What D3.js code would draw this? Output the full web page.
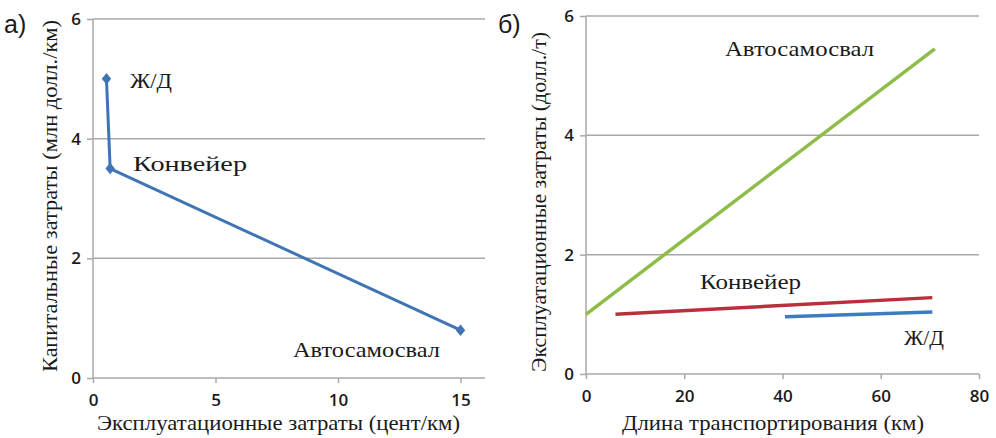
<!DOCTYPE html>
<html>
<head>
<meta charset="utf-8">
<script src="https://cdn.jsdelivr.net/npm/d3@7"></script>
<style>
  body { margin: 0; background: #fff; }
</style>
</head>
<body>
<div id="chart"></div>
<script>
// panel a: capital vs operating cost
var aNames = ['Ж/Д', 'Конвейер', 'Автосамосвал'];
var aOper = [0.55, 0.7, 15];      // цент/км
var aCap = [5.0, 3.5, 0.8];       // млн долл./км
var aXTicks = [0, 5, 10, 15];
var aYTicks = [0, 2, 4, 6];

// panel b: operating cost vs haul length
var bNames = ['Автосамосвал', 'Конвейер', 'Ж/Д'];
var bColors = ['#8dbd48', '#b9303d', '#3e7cc2'];
var bLen = [[0, 71], [6, 70.5], [40.5, 70.5]];
var bCost = [[1.0, 5.45], [1.0, 1.28], [0.96, 1.04]];
var bXTicks = [0, 20, 40, 60, 80];
var bYTicks = [0, 2, 4, 6];

var SERIF = '"Liberation Serif", "Times New Roman", "DejaVu Serif", serif';
var SANS = '"Open Sans", "Liberation Sans", sans-serif';

var svg = d3.select('#chart').append('svg')
  .attr('width', 996)
  .attr('height', 438);

var drawFrame = function(g, x, y, xt, yt) {
  g.selectAll('line.grid').data(yt.filter(function(d){ return d > 0; }))
    .enter().append('line')
    .attr('class', 'grid')
    .attr('x1', x.range()[0]).attr('x2', x.range()[1])
    .attr('y1', function(d){ return y(d); })
    .attr('y2', function(d){ return y(d); })
    .attr('stroke', '#a8a8a8').attr('stroke-width', 1.5);

  var yAxis = g.append('g')
    .attr('transform', 'translate(' + x.range()[0] + ',0)')
    .call(d3.axisLeft(y).tickValues(yt).tickFormat(d3.format('d')).tickSize(6).tickPadding(6));
  var xAxis = g.append('g')
    .attr('transform', 'translate(0,' + y.range()[0] + ')')
    .call(d3.axisBottom(x).tickValues(xt).tickFormat(d3.format('d')).tickSize(5).tickPadding(11));
  [yAxis, xAxis].forEach(function(ax) {
    ax.attr('font-family', SANS).attr('font-size', 17).attr('font-weight', 600);
    ax.selectAll('.tick text').attr('fill', '#1a1a1a');
    ax.select('.domain').attr('stroke', '#a8a8a8').attr('stroke-width', 1.5);
    ax.selectAll('.tick line').attr('stroke', '#a8a8a8').attr('stroke-width', 1.5);
  });
  xAxis.selectAll('.domain').attr('d', 'M' + x.range()[0] + ',0H' + x.range()[1]);
  yAxis.selectAll('.domain').attr('d', 'M0,' + y.range()[0] + 'V' + y.range()[1]);
};

var addText = function(g, x, y, str, size, len) {
  var t = g.append('text')
    .attr('x', x).attr('y', y)
    .attr('font-family', SERIF)
    .attr('font-size', size)
    .attr('fill', '#1a1a1a')
    .text(str);
  if (len) t.attr('textLength', len).attr('lengthAdjust', 'spacingAndGlyphs');
  return t;
};

// ---- panel a
var ax = d3.scaleLinear().domain([0, 16]).range([93, 485]);
var ay = d3.scaleLinear().domain([0, 6]).range([378, 19]);
var ga = svg.append('g');
drawFrame(ga, ax, ay, aXTicks, aYTicks);

var aPts = aOper.map(function(v, i) { return { x: v, y: aCap[i], n: aNames[i] }; });
ga.append('path').datum(aPts)
  .attr('fill', 'none')
  .attr('stroke', '#3f74b5')
  .attr('stroke-width', 3)
  .attr('stroke-linejoin', 'round')
  .attr('d', d3.line().x(function(d){ return ax(d.x); }).y(function(d){ return ay(d.y); }));
ga.selectAll('path.pt').data(aPts).enter().append('path')
  .attr('class', 'pt')
  .attr('d', d3.symbol().type(d3.symbolSquare).size(50))
  .attr('transform', function(d){ return 'translate(' + ax(d.x) + ',' + ay(d.y) + ') scale(0.95,1.15) rotate(45)'; })
  .attr('fill', '#3f74b5');

var aLabPos = [[130, 88, 42], [133, 171, 114], [293, 357, 147]];
aNames.forEach(function(n, i) {
  addText(ga, aLabPos[i][0], aLabPos[i][1], n, 22, aLabPos[i][2]);
});

addText(ga, 97, 430, 'Эксплуатационные затраты (цент/км)', 21, 363);
addText(ga, 0, 0, 'Капитальные затраты (млн  долл./км)', 21, 352)
  .attr('transform', 'translate(57,372) rotate(-90)');
ga.append('text').attr('x', 4).attr('y', 33)
  .attr('font-family', '"Liberation Sans", Arial, sans-serif').attr('font-size', 25)
  .attr('fill', '#1a1a1a').text('а)');

// ---- panel b
var bx = d3.scaleLinear().domain([0, 80]).range([586, 979]);
var by = d3.scaleLinear().domain([0, 6]).range([374, 16]);
var gb = svg.append('g');
drawFrame(gb, bx, by, bXTicks, bYTicks);

gb.selectAll('line.ser').data(bNames).enter().append('line')
  .attr('class', 'ser')
  .attr('x1', function(d, i){ return bx(bLen[i][0]); })
  .attr('x2', function(d, i){ return bx(bLen[i][1]); })
  .attr('y1', function(d, i){ return by(bCost[i][0]); })
  .attr('y2', function(d, i){ return by(bCost[i][1]); })
  .attr('stroke', function(d, i){ return bColors[i]; })
  .attr('stroke-width', 3.5);

var bLabPos = [[725, 56, 149], [700, 289, 101], [904, 345, 40]];
bNames.forEach(function(n, i) {
  addText(gb, bLabPos[i][0], bLabPos[i][1], n, 22, bLabPos[i][2]);
});

addText(gb, 622, 430, 'Длина транспортирования (км)', 21, 302);
addText(gb, 0, 0, 'Эксплуатационные затраты (долл./т)', 21, 340)
  .attr('transform', 'translate(546,372) rotate(-90)');
gb.append('text').attr('x', 498).attr('y', 33)
  .attr('font-family', '"Liberation Sans", Arial, sans-serif').attr('font-size', 25)
  .attr('fill', '#1a1a1a').text('б)');
</script>
</body>
</html>
